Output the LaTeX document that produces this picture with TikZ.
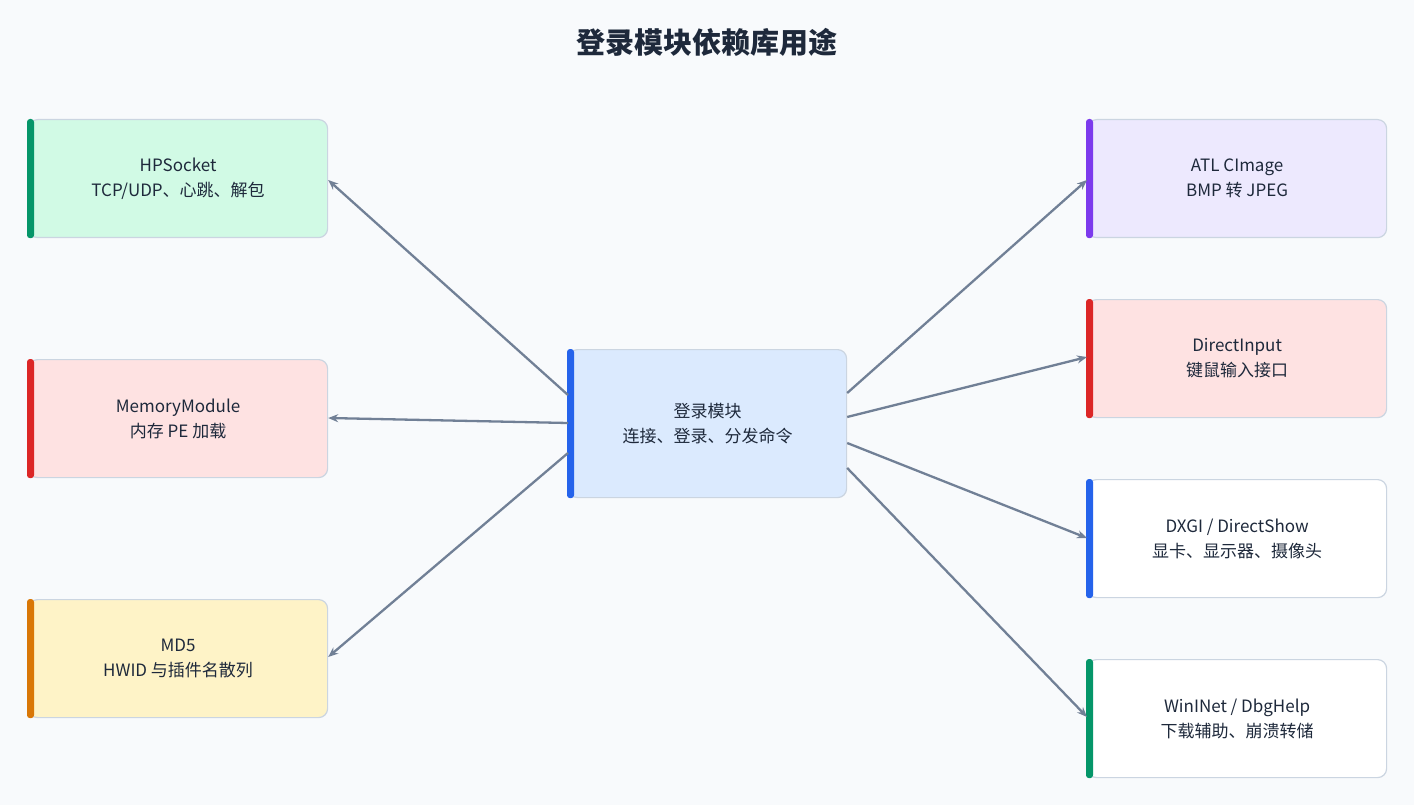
\documentclass[tikz,border=0pt]{standalone}
\usepackage{fontspec}
\setmainfont{Noto Sans CJK SC}
\usetikzlibrary{arrows.meta,calc}
\definecolor{bg}{HTML}{F8FAFC}
\definecolor{bd}{HTML}{CBD5E1}
\definecolor{ar}{HTML}{718096}
\definecolor{tx}{HTML}{1E293B}
\definecolor{fg}{HTML}{D1FAE5}\definecolor{bg2}{HTML}{059669}
\definecolor{fr}{HTML}{FEE2E2}\definecolor{br}{HTML}{DC2626}
\definecolor{fy}{HTML}{FEF3C7}\definecolor{by}{HTML}{D97706}
\definecolor{fp}{HTML}{EDE9FE}\definecolor{bp}{HTML}{7C3AED}
\definecolor{fb}{HTML}{DBEAFE}\definecolor{bb}{HTML}{2563EB}
\tikzset{
 card/.style={draw=bd,line width=1.2pt,rounded corners=9pt,anchor=north west,minimum width=299pt,minimum height=118pt,align=center,text=tx,font=\fontsize{17}{25}\selectfont,inner sep=0pt},
 arr/.style={draw=ar,line width=2.3pt,-{Stealth[length=10pt,width=8pt]}}
}
\newcommand{\card}[6]{\node[card,fill=#4] (#1) at (#2,#3) {#6};
 \fill[#5,rounded corners=3pt] ([xshift=-1pt]#1.north west) rectangle ([xshift=6pt]#1.south west);}
\begin{document}
\begin{tikzpicture}[x=1pt,y=-1pt]
\fill[bg] (0,0) rectangle (1414,805);
\node[text=tx,font=\fontsize{29}{32}\selectfont\bfseries] (title) at (707,42) {登录模块依赖库用途};
\card{hp}{28}{119}{fg}{bg2}{HPSocket\\TCP/UDP、心跳、解包}
\card{mm}{28}{359}{fr}{br}{MemoryModule\\内存 PE 加载}
\card{md}{28}{599}{fy}{by}{MD5\\HWID 与插件名散列}
\card{atl}{1087}{119}{fp}{bp}{ATL CImage\\BMP 转 JPEG}
\card{di}{1087}{299}{fr}{br}{DirectInput\\键鼠输入接口}
\card{dx}{1087}{479}{white}{bb}{DXGI / DirectShow\\显卡、显示器、摄像头}
\card{wi}{1087}{659}{white}{bg2}{WinINet / DbgHelp\\下载辅助、崩溃转储}
\node[card,fill=fb,minimum width=278pt,minimum height=148pt] (c) at (568,349) {登录模块\\连接、登录、分发命令};
\fill[bb,rounded corners=3pt] ([xshift=-1pt]c.north west) rectangle ([xshift=6pt]c.south west);
\draw[arr] ([yshift=-46pt]c.north west) -- ([yshift=-61pt]hp.north east);
\draw[arr] ([yshift=-74pt]c.north west) -- ([yshift=-59pt]mm.north east);
\draw[arr] ([yshift=-104pt]c.north west) -- ([yshift=-58pt]md.north east);
\draw[arr] ([yshift=-44pt]c.north east) -- ([yshift=-61pt]atl.north west);
\draw[arr] ([yshift=-68pt]c.north east) -- ([yshift=-58pt]di.north west);
\draw[arr] ([yshift=-94pt]c.north east) -- ([yshift=-59pt]dx.north west);
\draw[arr] ([yshift=-119pt]c.north east) -- ([yshift=-58pt]wi.north west);
\end{tikzpicture}
\end{document}
